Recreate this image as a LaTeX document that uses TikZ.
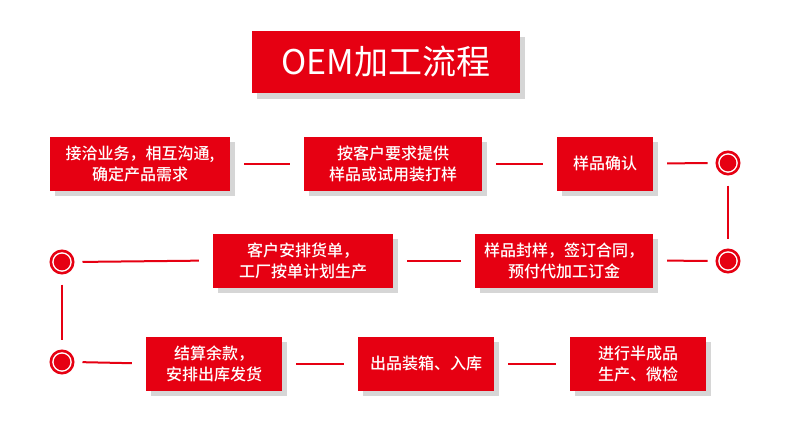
\documentclass[tikz,border=0pt]{standalone}
\usepackage{fontspec}
\setmainfont{Noto Sans CJK SC}
\newfontfamily\medfont{Noto Sans CJK SC Medium}
\definecolor{oemred}{HTML}{E60012}
\definecolor{shadowgray}{HTML}{D6D6D6}
\tikzset{
  stepbox/.style={fill=oemred, text=white, align=center, inner sep=0pt,
    minimum height=54pt, font=\medfont\fontsize{16pt}{21pt}\selectfont,
    preaction={fill=shadowgray, transform canvas={xshift=5pt,yshift=-5pt}}},
  titlebox/.style={fill=oemred, text=white, inner sep=0pt,
    minimum width=268pt, minimum height=62pt, font=\fontsize{34pt}{38pt}\selectfont,
    preaction={fill=shadowgray, transform canvas={xshift=5pt,yshift=-6pt}}},
  ring/.style={circle, draw=oemred, line width=2pt, fill=oemred, inner sep=0pt,
    minimum size=23pt, path picture={\fill[white] (path picture bounding box.center) circle (9.8pt);
      \fill[oemred] (path picture bounding box.center) circle (8.3pt);}},
  link/.style={draw=oemred, line width=2pt},
  bb/.style={link, shorten <=14pt, shorten >=14pt},
  bc/.style={link, shorten <=14pt, shorten >=8pt},
  cb/.style={link, shorten <=8pt, shorten >=14pt},
  cc/.style={link, shorten <=10pt, shorten >=10pt}
}
\begin{document}
\begin{tikzpicture}[x=1pt,y=-1pt]
\useasboundingbox (0,0) rectangle (790,437);
\fill[white] (0,0) rectangle (790,437);
\node[titlebox] (title) at (386,62) {OEM加工流程};
% row 1
\node[stepbox, minimum width=180pt] (b1) at (140,163.5) {接洽业务，相互沟通,\\确定产品需求};
\node[stepbox, minimum width=178pt] (b2) at (393,163.5) {按客户要求提供\\样品或试用装打样};
\node[stepbox, minimum width=96pt] (b3) at (605,163.5) {样品确认};
\node[ring] (c1) at (728,163) {};
% row 2
\node[ring] (c2) at (728,261) {};
\node[stepbox, minimum width=178pt] (b4) at (564,260.5) {样品封样，签订合同，\\预付代加工订金};
\node[stepbox, minimum width=180pt] (b5) at (303,260.5) {客户安排货单，\\工厂按单计划生产};
\node[ring] (c3) at (62,262) {};
% row 3
\node[ring] (c4) at (62,362) {};
\node[stepbox, minimum width=136pt] (b6) at (214,363.5) {结算余款，\\安排出库发货};
\node[stepbox, minimum width=136pt] (b7) at (426,363.5) {出品装箱、入库};
\node[stepbox, minimum width=136pt] (b8) at (638,363.5) {进行半成品\\生产、微检};
% connectors
\draw[bb] (b1.east) -- (b2.west);
\draw[bb] (b2.east) -- (b3.west);
\draw[bc] (b3.east) -- (c1.west);
\draw[cc] (c1.south) -- (c2.north);
\draw[cb] (c2.west) -- (b4.east);
\draw[bb] (b4.west) -- (b5.east);
\draw[bc] (b5.west) -- (c3.east);
\draw[cc] (c3.south) -- (c4.north);
\draw[cb] (c4.east) -- (b6.west);
\draw[bb] (b6.east) -- (b7.west);
\draw[bb] (b7.east) -- (b8.west);
\end{tikzpicture}
\end{document}
